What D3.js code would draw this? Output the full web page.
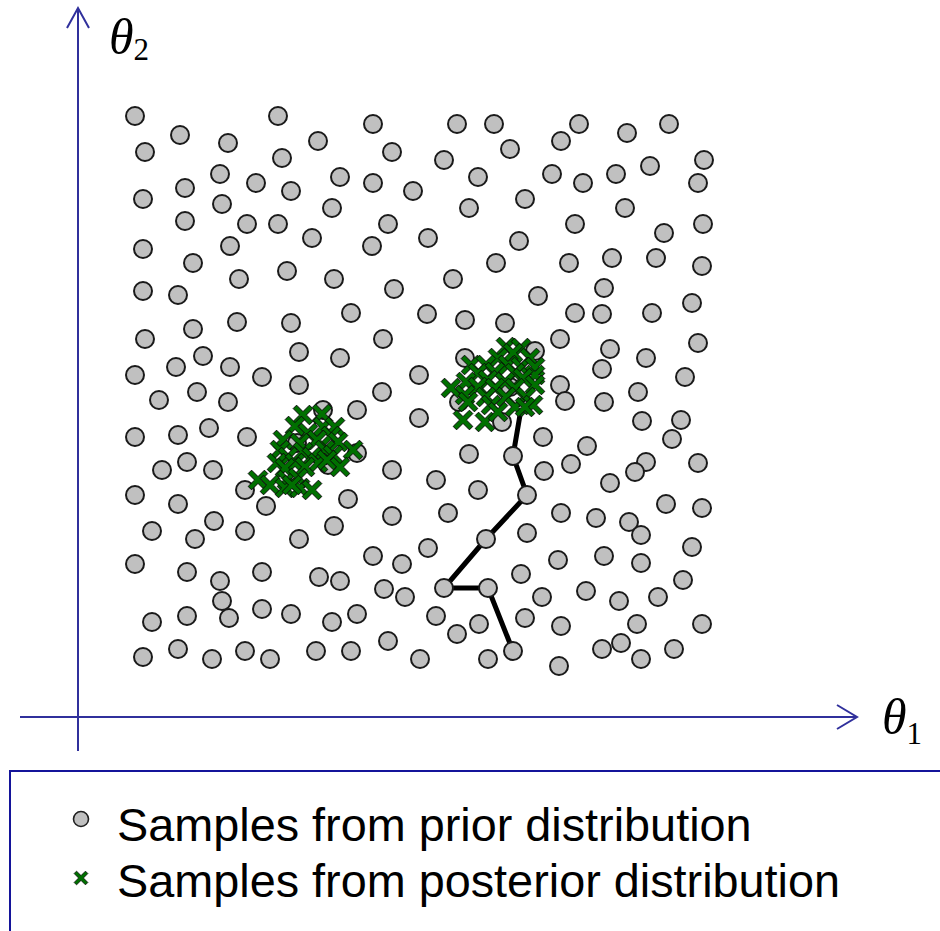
<!DOCTYPE html>
<html>
<head>
<meta charset="utf-8">
<script src="https://cdn.jsdelivr.net/npm/d3@7"></script>
<style>
  body { margin: 0; background: #fff; }
  svg { display: block; }
</style>
</head>
<body>
<svg id="chart"></svg>
<script>
// prior samples (theta1, theta2), arbitrary units
var priorT1 = [57,200,295,102,150,240,67,204,314,142,178,262,295,335,107,213,65,144,254,107,169,200,310,234,294,65,152,115,209,161,256,316,65,100,
  379,416,501,549,591,483,432,366,626,572,400,474,505,538,620,447,391,547,350,441,497,625,586,418,491,534,578,624,375,460,526,
  159,213,273,115,67,305,125,98,152,221,262,57,184,221,341,81,119,150,304,245,279,341,57,100,131,169,219,279,84,109,135,250,314,57,167,
  349,387,427,497,524,574,614,482,532,568,620,387,457,524,607,482,487,526,560,564,603,594,381,432,424,465,509,391,435,493,466,568,557,620,358,400,532,449,
  100,188,270,136,74,117,167,221,256,314,57,109,142,184,241,262,295,324,350,306,327,144,109,151,184,213,74,254,279,310,65,100,134,167,192,238,273,342,
  370,483,518,551,563,588,624,408,449,480,526,563,614,443,605,366,410,464,508,541,580,358,401,379,447,483,559,624,435,410,481,524,543,563,596];
var priorT2 = [601,601,593,582,574,576,565,559,565,543,534,540,534,526,529,526,518,513,509,496,493,493,493,479,471,468,471,454,446,438,438,428,426,422,
  593,593,593,584,593,576,568,557,557,551,540,543,534,543,534,518,509,509,479,476,493,493,484,454,454,459,459,451,438,421,429,
  395,394,404,388,378,378,361,350,350,365,359,342,340,332,342,317,325,315,325,307,307,299,280,282,289,280,274,264,247,255,247,252,247,222,227,
  403,397,394,404,403,404,414,378,368,359,374,359,366,348,340,332,316,315,325,296,297,278,315,330,295,280,271,263,261,253,246,255,245,254,237,227,234,222,
  213,211,218,196,186,178,186,178,191,201,153,145,136,145,140,136,161,153,169,128,120,116,101,99,108,103,95,95,103,76,60,68,58,66,58,66,66,58,
  204,204,199,195,182,213,209,178,184,157,161,154,170,143,137,129,129,120,126,116,120,101,93,83,99,91,93,93,66,58,51,68,74,58,68];

// posterior samples
var postT1 = [225,244,217,245,257,230,205,253,260,222,239,275,202,225,247,210,234,255,199,217,240,249,262,207,227,180,192,209,220,207,222,234,214,
  428,443,435,420,452,393,408,430,443,457,400,417,437,457,388,410,445,427,373,400,417,437,457,387,408,428,448,390,413,437,455,385,407,420,447];
var postT2 = [302,303,291,290,290,284,277,281,275,274,277,267,267,265,267,260,260,262,254,254,254,257,250,249,250,237,232,237,239,229,229,227,232,
  370,369,364,359,359,352,352,352,350,350,344,345,344,342,335,337,339,335,329,330,329,329,332,322,320,320,320,315,312,310,312,297,295,305,310];

// chain walking from the prior into the right posterior mode
var chainT1 = [435,410,366,408,449,435,442];
var chainT2 = [66,129,129,178,222,261,302];

var legendLabels = ["Samples from prior distribution", "Samples from posterior distribution"];

var width = 940, height = 931;
var axisColour = "#30309c";

var svg = d3.select("#chart")
  .attr("width", width)
  .attr("height", height);

var x = d3.scaleLinear().domain([0, 779]).range([78, 857]);
var y = d3.scaleLinear().domain([0, 709]).range([717, 8]);

// axes with open arrow heads
var axes = svg.append("g")
  .attr("stroke", axisColour)
  .attr("stroke-width", 2)
  .attr("fill", "none");

axes.append("line")
  .attr("x1", x(-58)).attr("y1", y(0))
  .attr("x2", x(779)).attr("y2", y(0));
axes.append("polyline")
  .attr("points", [[x(779) - 20, y(0) - 12], [x(779), y(0)], [x(779) - 20, y(0) + 12]].join(" "));

axes.append("line")
  .attr("x1", x(0)).attr("y1", y(-34))
  .attr("x2", x(0)).attr("y2", y(709));
axes.append("polyline")
  .attr("points", [[x(0) - 11, y(709) + 20], [x(0), y(709)], [x(0) + 11, y(709) + 20]].join(" "));

// axis labels
function thetaLabel(px, py, sub, subDx, subDy) {
  var t = svg.append("text")
    .attr("x", px).attr("y", py)
    .attr("font-family", "'Liberation Serif', 'Times New Roman', serif")
    .attr("fill", "#000");
  t.append("tspan").attr("font-style", "italic").attr("font-size", 50).text("θ");
  t.append("tspan").attr("font-size", 31).attr("dx", subDx).attr("dy", subDy).text(sub);
}
thetaLabel(882, 734, "1", 0, 10);
thetaLabel(109, 54, "2", 0, 6);

// chain
svg.append("path")
  .datum(d3.range(chainT1.length))
  .attr("fill", "none")
  .attr("stroke", "#000")
  .attr("stroke-width", 5)
  .attr("d", d3.line()
    .x(function(i) { return x(chainT1[i]); })
    .y(function(i) { return y(chainT2[i]); }));

// prior circles
svg.append("g")
  .selectAll("circle")
  .data(d3.range(priorT1.length))
  .enter().append("circle")
    .attr("cx", function(i) { return x(priorT1[i]); })
    .attr("cy", function(i) { return y(priorT2[i]); })
    .attr("r", 9)
    .attr("fill", "#c0c0c0")
    .attr("stroke", "#1a1a1a")
    .attr("stroke-width", 2);

// x-shaped marker: a plus sign turned by 45 degrees
function crossPath(L, w) {
  var pts = [[w,-L],[w,-w],[L,-w],[L,w],[w,w],[w,L],[-w,L],[-w,w],[-L,w],[-L,-w],[-w,-w],[-w,-L]];
  var r = Math.SQRT1_2;
  return "M" + pts.map(function(p) { return [(p[0] - p[1]) * r, (p[0] + p[1]) * r].join(","); }).join("L") + "Z";
}

svg.append("g")
  .selectAll("path")
  .data(d3.range(postT1.length))
  .enter().append("path")
    .attr("transform", function(i) { return "translate(" + x(postT1[i]) + "," + y(postT2[i]) + ")"; })
    .attr("d", crossPath(11.5, 2.4))
    .attr("fill", "#007000")
    .attr("stroke", "#0a0a0a")
    .attr("stroke-width", 1);

// legend box
var legend = svg.append("g");
legend.append("path")
  .attr("d", "M10,931V771H940")
  .attr("fill", "none")
  .attr("stroke", "#14149a")
  .attr("stroke-width", 2);

legend.append("circle")
  .attr("cx", 81).attr("cy", 819).attr("r", 7.5)
  .attr("fill", "#c0c0c0")
  .attr("stroke", "#202020")
  .attr("stroke-width", 1.6);
legend.append("path")
  .attr("transform", "translate(81,878)")
  .attr("d", crossPath(8, 1.7))
  .attr("fill", "#007000")
  .attr("stroke", "#0a0a0a")
  .attr("stroke-width", 0.8);

legend.selectAll("text")
  .data(legendLabels)
  .enter().append("text")
    .attr("x", 117)
    .attr("y", function(d, i) { return 841 + i * 56; })
    .attr("font-family", "'Liberation Sans', Arial, sans-serif")
    .attr("font-size", 46.8)
    .attr("fill", "#000")
    .text(function(d) { return d; });
</script>
</body>
</html>
